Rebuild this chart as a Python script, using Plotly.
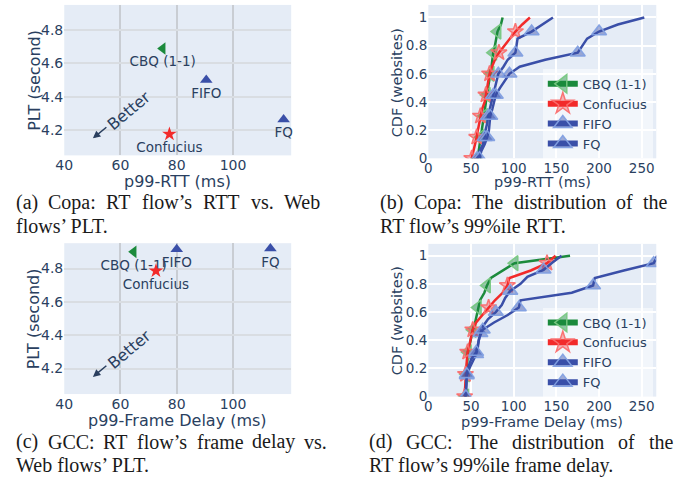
import plotly.graph_objects as go

W, H = 676, 482

# ---------------- data ----------------
methods = ["CBQ (1-1)", "Confucius", "FIFO", "FQ"]

# (a) Copa: RT flow p99 RTT vs web PLT
copa_rtt = [75.0, 77.4, 90.5, 118.0]
copa_plt = [4.69, 4.175, 4.50, 4.263]

# (c) GCC: RT flow p99 frame delay vs web PLT
gcc_delay = [64.7, 72.6, 80.0, 113.3]
gcc_plt = [4.90, 4.786, 4.915, 4.92]

# (b) Copa CDF of p99 RTT
copa_cdf = [0.0, 0.05, 0.1, 0.15, 0.2, 0.25, 0.3, 0.35, 0.4, 0.45, 0.5,
            0.55, 0.6, 0.65, 0.7, 0.75, 0.8, 0.85, 0.9, 0.95, 1.0]
copa_cbq = [57.7, 59, 60.5, 61.5, 63, 64, 65.4, 66.5, 67.5, 68.5, 70,
            71.5, 73, 74, 75, 76, 78, 79.5, 81, 85, 87]
copa_conf = [50.8, 53, 55, 56.6, 58, 59.5, 61, 63, 66, 67.4, 68,
             70, 71.7, 74.5, 78, 82.7, 89, 96, 102, 110, 119]
copa_fifo = [57, 60, 64, 66, 67, 69, 70, 72, 74, 76, 78,
             80, 82, 88, 93, 102, 103, 104.5, 121, 133, 146]
copa_fq = [60, 62, 66, 69, 71, 72, 72.5, 75, 77, 79, 84,
           89, 95, 107, 137, 175, 180, 186, 200, 222, 253]

# (d) GCC CDF of p99 frame delay
gcc_cdf19 = [0.0, 0.053, 0.105, 0.158, 0.211, 0.263, 0.316, 0.368, 0.421, 0.474,
             0.526, 0.579, 0.632, 0.684, 0.737, 0.789, 0.842, 0.895, 0.947, 1.0]
gcc_cdf20 = copa_cdf
gcc_cbq = [43.2, 43.6, 44, 44.4, 45, 45.5, 46.3, 48.5, 50, 52,
           54.8, 56.7, 58, 60.6, 65.6, 68.7, 73.3, 87, 101, 166]
gcc_conf = [42.5, 42.8, 43.2, 43.5, 44.5, 45.2, 46, 48.2, 50, 52,
            56, 63.5, 70.6, 78, 87, 92.6, 95, 120, 139, 149]
gcc_fifo = [43.5, 44, 44.5, 45, 48, 52, 56, 58, 59, 61, 64,
            70, 79, 86, 90, 96, 108, 116, 135, 145, 156]
gcc_fq = [44, 44.3, 44.6, 45, 47, 50, 56, 58, 60, 63.7,
          77, 93, 106, 108, 168, 193, 195, 229, 264, 268]

captions = {
    "a": ["(a) Copa: RT flow\u2019s RTT vs. Web", "flows\u2019 PLT."],
    "b": ["(b) Copa: The distribution of the", "RT flow\u2019s 99%ile RTT."],
    "c": ["(c) GCC: RT flow\u2019s frame delay vs.", "Web flows\u2019 PLT."],
    "d": ["(d) GCC: The distribution of the", "RT flow\u2019s 99%ile frame delay."],
}

# ---------------- styles ----------------
FONT = '"DejaVu Sans", Verdana, sans-serif'
TXT = "#2a3f5f"
GREEN, RED, BLUE = "#1b8a3c", "#f22a2a", "#3a4fa8"
STYLE = {
    "CBQ (1-1)": dict(color=GREEN, symbol="triangle-left", fill="rgba(27,138,60,0.45)",
                      edge="rgba(120,200,130,0.95)", msize=13),
    "Confucius": dict(color=RED, symbol="star", fill="rgba(242,42,42,0.32)",
                      edge="rgba(250,110,110,0.95)", msize=12),
    "FIFO": dict(color=BLUE, symbol="triangle-up", fill="rgba(58,79,168,0.45)",
                 edge="rgba(130,160,225,0.95)", msize=13),
    "FQ": dict(color=BLUE, symbol="triangle-up", fill="rgba(58,79,168,0.45)",
               edge="rgba(130,160,225,0.95)", msize=13),
}


def px(x):
    return x / W


def py(y):
    return 1 - y / H


fig = go.Figure()

# ---------------- scatter panels ----------------
for xs, ys, ax, ay in [(copa_rtt, copa_plt, "x", "y"), (gcc_delay, gcc_plt, "x3", "y3")]:
    for i, m in enumerate(methods):
        st = STYLE[m]
        fig.add_trace(go.Scatter(
            x=[xs[i]], y=[ys[i]], mode="markers+text", text=[m],
            textposition="bottom center",
            textfont=dict(size=13.5, color=TXT, family=FONT),
            marker=dict(symbol=st["symbol"], size=11, color=st["color"]),
            xaxis=ax, yaxis=ay, showlegend=False, cliponaxis=False))

# ---------------- CDF panels ----------------
def cdf_trace(vals, levels, m, ax, ay):
    st = STYLE[m]
    fills = [st["fill"] if k % 3 == 0 else "rgba(0,0,0,0)" for k in range(len(vals))]
    edges = [st["edge"] if k % 3 == 0 else "rgba(0,0,0,0)" for k in range(len(vals))]
    return go.Scatter(
        x=vals, y=levels, mode="lines+markers",
        line=dict(color=st["color"], width=2.5),
        marker=dict(symbol=st["symbol"], size=st["msize"], color=fills,
                    line=dict(color=edges, width=1.5)),
        xaxis=ax, yaxis=ay, showlegend=False, cliponaxis=True)


for vals, lv, m in [(copa_cbq, copa_cdf, "CBQ (1-1)"), (copa_conf, copa_cdf, "Confucius"),
                    (copa_fifo, copa_cdf, "FIFO"), (copa_fq, copa_cdf, "FQ")]:
    fig.add_trace(cdf_trace(vals, lv, m, "x2", "y2"))

for vals, lv, m in [(gcc_cbq, gcc_cdf19, "CBQ (1-1)"), (gcc_conf, gcc_cdf19, "Confucius"),
                    (gcc_fifo, gcc_cdf20, "FIFO"), (gcc_fq, gcc_cdf19, "FQ")]:
    fig.add_trace(cdf_trace(vals, lv, m, "x4", "y4"))

# legend-only entries
for lg, ax, ay in [("legend", "x2", "y2"), ("legend2", "x4", "y4")]:
    for m in methods:
        st = STYLE[m]
        fig.add_trace(go.Scatter(
            x=[None], y=[None], mode="lines+markers", name=m, legend=lg,
            line=dict(color=st["color"], width=6),
            marker=dict(symbol=st["symbol"], size=16, color=st["fill"],
                        line=dict(color=st["edge"], width=1.5)),
            xaxis=ax, yaxis=ay))

# ---------------- axes ----------------
tick = dict(size=14, color=TXT, family=FONT)
tick_cdf = dict(size=13.5, color=TXT, family=FONT)
sc_x = dict(range=[40, 120.7], tickvals=[40, 60, 80, 100], gridcolor="#c9cdd3", gridwidth=2,
            showline=False, zeroline=False, tickfont=tick, ticks="")
sc_y = dict(range=[4.047, 4.952], dtick=0.2, gridcolor="#d9dde2", gridwidth=2,
            zeroline=False, tickfont=tick, ticks="")
cd_x = dict(range=[0, 267], dtick=50, gridcolor="white", gridwidth=2,
            zeroline=False, tickfont=tick_cdf, ticks="")
cd_y = dict(dtick=0.2, gridcolor="white", gridwidth=2, zeroline=False, tickfont=tick_cdf, ticks="")
# overlay axis that repaints the x=60 grid line white on the scatter panels
white60 = dict(range=[40, 120.7], tickvals=[60], showticklabels=False, gridcolor="white",
               gridwidth=2, zeroline=False, ticks="")

fig.update_layout(
    xaxis=dict(domain=[px(56), px(286)], anchor="y", **sc_x),
    yaxis=dict(domain=[py(158), py(5)], anchor="x", **sc_y),
    xaxis2=dict(domain=[px(425), px(656)], anchor="y2", **cd_x),
    yaxis2=dict(domain=[py(161), py(5)], anchor="x2", range=[0, 1.089], **cd_y),
    xaxis3=dict(domain=[px(56), px(286)], anchor="y3", **sc_x),
    yaxis3=dict(domain=[py(400.7), py(247.3)], anchor="x3", **sc_y),
    xaxis4=dict(domain=[px(425), px(656)], anchor="y4", **cd_x),
    yaxis4=dict(domain=[py(403.3), py(248)], anchor="x4", range=[0, 1.084], **cd_y),
    xaxis5=dict(overlaying="x", anchor="y", **white60),
    xaxis6=dict(overlaying="x3", anchor="y3", **white60),
)

# ---------------- annotations ----------------
ann = []
title_font = dict(size=16, color=TXT, family=FONT)
title_font_cdf = dict(size=14.5, color=TXT, family=FONT)
for x, y, t, ang, f in [(25, 81.5, "PLT (second)", -90, title_font),
                        (25, 324, "PLT (second)", -90, title_font),
                        (393, 84, "CDF (websites)", -90, title_font_cdf),
                        (393, 326, "CDF (websites)", -90, title_font_cdf),
                        (171, 185, "p99-RTT (ms)", 0, title_font),
                        (540.5, 185, "p99-RTT (ms)", 0, title_font_cdf),
                        (171, 428, "p99-Frame Delay (ms)", 0, title_font),
                        (540.5, 429, "p99-Frame Delay (ms)", 0, title_font_cdf)]:
    ann.append(dict(x=px(x), y=py(y), xref="paper", yref="paper", text=t, textangle=ang,
                    showarrow=False, font=f, xanchor="center", yanchor="middle"))

# "Better" arrows
for hx, hy, tx, ty in [(85, 140.7, 121.7, 112.7), (85, 383.3, 121.7, 355)]:
    ann.append(dict(x=px(hx), y=py(hy), xref="paper", yref="paper", text="", showarrow=True,
                    ax=15, ay=-12.4, arrowhead=2, arrowsize=1, arrowwidth=1.5, arrowcolor=TXT))
    ann.append(dict(x=px(tx), y=py(ty), xref="paper", yref="paper", text="Better", textangle=-40,
                    xanchor="center", yanchor="middle", showarrow=False,
                    font=dict(size=16, color=TXT, family=FONT)))

# captions (Times metrics, justified first line)
TIMES = {" ": 250, "(": 333, ")": 333, "a": 444, "b": 500, "c": 444, "d": 500, "e": 444,
         "f": 333, "g": 500, "h": 500, "i": 278, "l": 278, "m": 778, "n": 500, "o": 500,
         "p": 500, "r": 333, "s": 389, "t": 278, "u": 500, "v": 500, "w": 722, "y": 500,
         "C": 667, "G": 722, "L": 611, "P": 556, "R": 667, "T": 611, "W": 944, ":": 278,
         ".": 250, "\u2019": 333, "%": 833, "9": 500, "1": 500}
CAP_SIZE = 20
cap_font = dict(size=CAP_SIZE, color="#1a1a1a", family='"Liberation Serif", "Times New Roman", serif')


def tw(s):
    return sum(TIMES.get(c, 500) for c in s) / 1000 * CAP_SIZE


def add_line(text, left, right, y, justify):
    words = text.split(" ")
    if justify and len(words) > 1:
        widths = [tw(w) for w in words]
        gap = (right - left - sum(widths)) / (len(words) - 1)
        x = left
        for w, wd in zip(words, widths):
            ann.append(dict(x=px(x), y=py(y), xref="paper", yref="paper", text=w,
                            showarrow=False, font=cap_font, xanchor="left", yanchor="middle",
                            borderpad=0))
            x += wd + gap
    else:
        ann.append(dict(x=px(left), y=py(y), xref="paper", yref="paper", text=text,
                        showarrow=False, font=cap_font, xanchor="left", yanchor="middle",
                        borderpad=0))


for key, left, right, y1, y2 in [("a", 6, 315, 205.5, 230), ("b", 375, 666, 205.5, 230),
                                 ("c", 6.5, 320.7, 449, 473), ("d", 363.4, 671.6, 449, 473)]:
    add_line(captions[key][0], left, right, y1, True)
    add_line(captions[key][1], left, right, y2, False)

legend_common = dict(xanchor="left", yanchor="top", bgcolor="rgba(255,255,255,0.5)",
                     font=dict(size=13, color=TXT, family=FONT), borderwidth=0,
                     tracegroupgap=0)
fig.update_layout(
    width=W, height=H, autosize=False,
    margin=dict(l=0, r=0, t=0, b=0),
    paper_bgcolor="white", plot_bgcolor="#E5ECF6",
    font=dict(family=FONT, color=TXT),
    annotations=ann,
    legend=dict(x=px(541), y=py(70), **legend_common),
    legend2=dict(x=px(541), y=py(312.7), **legend_common),
)

fig.write_html("out.html", config={"displayModeBar": False},
               post_script="document.body.style.margin='0';")
